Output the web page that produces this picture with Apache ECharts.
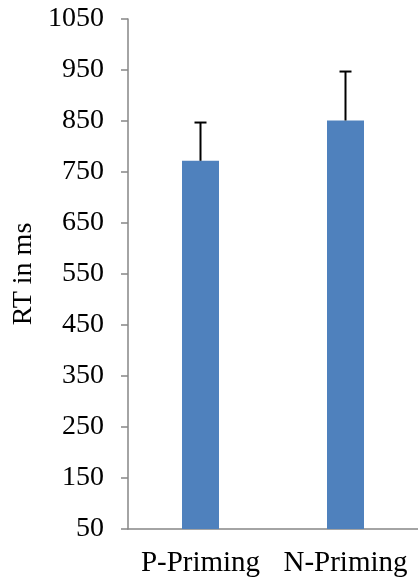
<!DOCTYPE html>
<html>
<head>
<meta charset="utf-8">
<script src="https://cdn.jsdelivr.net/npm/echarts@6/dist/echarts.min.js"></script>
<style>html,body{margin:0;padding:0;background:#fff;}#c{width:418px;height:584px;}</style>
</head>
<body>
<div id="c"></div>
<script>
const categories = ['P-Priming', 'N-Priming'];
const meanRT = [772, 851];
const errorRT = [75, 96];
const yTicks = { min: 50, max: 1050, interval: 100 };

const font = "'Liberation Serif', 'Times New Roman', serif";
const chart = echarts.init(document.getElementById('c'));
chart.setOption({
  animation: false,
  grid: { left: 128, top: 19, bottom: 55, width: 294 },
  xAxis: {
    type: 'category',
    data: categories,
    axisLine: { lineStyle: { color: '#868686', width: 1.5 } },
    axisTick: { show: false },
    axisLabel: { color: '#000', fontFamily: font, fontSize: 29, margin: 20, interval: 0, hideOverlap: false }
  },
  yAxis: {
    type: 'value',
    min: yTicks.min, max: yTicks.max, interval: yTicks.interval,
    name: 'RT in ms',
    nameLocation: 'middle',
    nameGap: 90,
    nameMoveOverlap: false,
    nameTextStyle: { color: '#000', fontFamily: font, fontSize: 28 },
    axisLine: { show: true, lineStyle: { color: '#868686', width: 1.5 } },
    axisTick: { show: true, length: 7, lineStyle: { color: '#868686', width: 1.5 } },
    splitLine: { show: false },
    axisLabel: { color: '#000', fontFamily: font, fontSize: 28, margin: 24, formatter: v => String(v) }
  },
  series: [
    {
      type: 'bar',
      data: meanRT,
      barWidth: 37,
      itemStyle: { color: '#4F81BD' },
      z: 2
    },
    {
      type: 'custom',
      z: 3,
      data: meanRT.map((m, i) => [i, m, m + errorRT[i]]),
      renderItem: function (params, api) {
        const base = api.coord([api.value(0), api.value(1)]);
        const top = api.coord([api.value(0), api.value(2)]);
        const half = 6;
        const style = { stroke: '#000', lineWidth: 2 };
        return {
          type: 'group',
          children: [
            { type: 'line', shape: { x1: base[0], y1: base[1], x2: top[0], y2: top[1] }, style: style },
            { type: 'line', shape: { x1: top[0] - half, y1: top[1], x2: top[0] + half, y2: top[1] }, style: style }
          ]
        };
      }
    }
  ]
});
</script>
</body>
</html>
